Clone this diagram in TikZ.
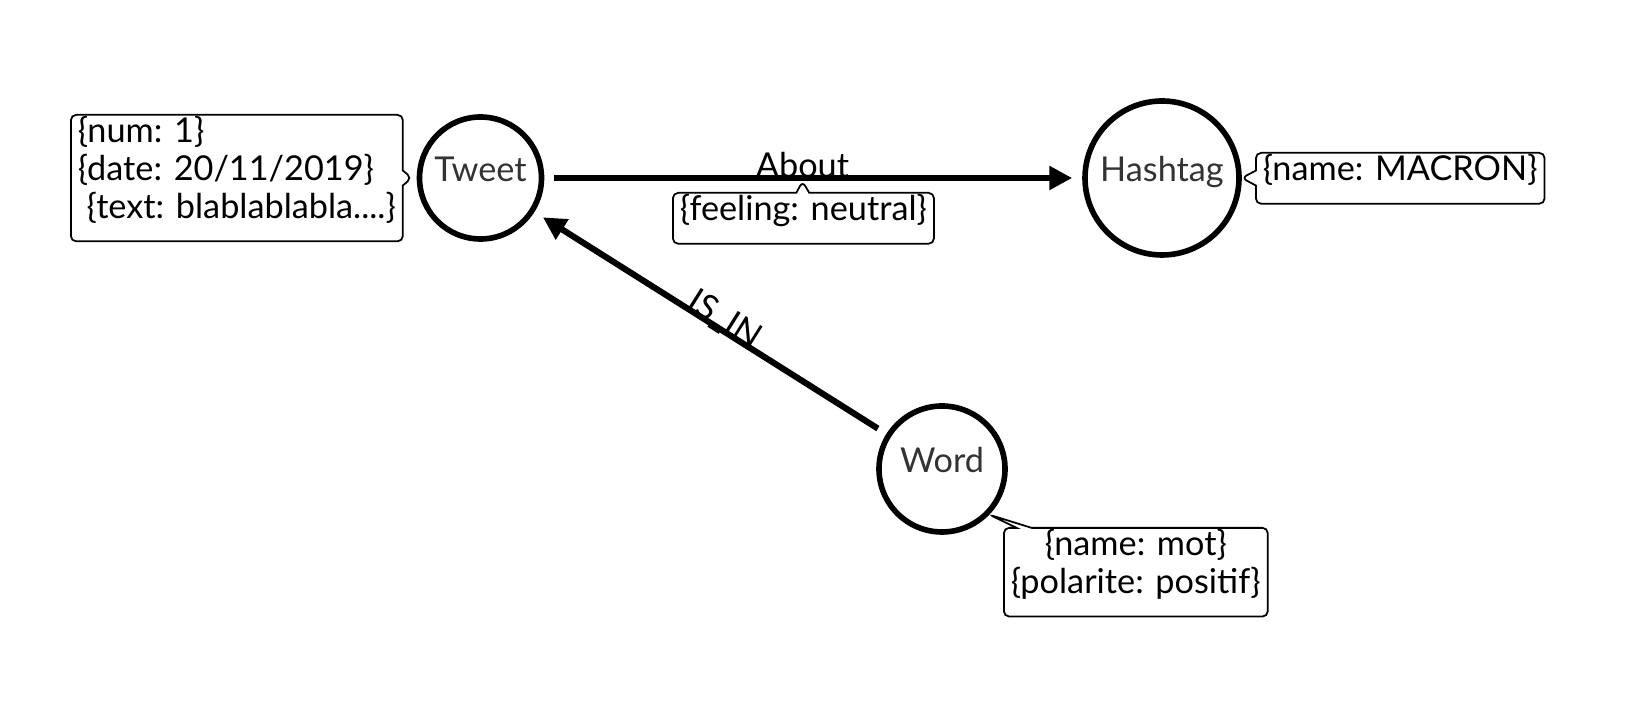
\documentclass[tikz,border=0pt]{standalone}
\usepackage{fontspec}
\setmainfont{Lato}
\usetikzlibrary{arrows.meta,shapes.callouts}

\definecolor{nodetext}{HTML}{333333}
\newcommand{\propfont}{\fontsize{19.5}{21.5}\selectfont}
\newcommand{\entfont}{\fontsize{19.5}{24}\selectfont}
\newcommand{\boxtail}{\rule[-12pt]{0pt}{0pt}}

\tikzset{
  >={Triangle[length=13pt,width=13pt]},   % filled arrow tips
  entity/.style={circle, draw, line width=3.2pt, inner sep=0pt, text=nodetext, font=\entfont, text height=15pt, text depth=11pt},
  prop/.style={rectangle callout, draw, fill=white, line width=1pt, rounded corners=3pt, inner xsep=4pt, inner ysep=1pt, font=\propfont, callout pointer width=0.3cm},
  rel/.style={->, line width=3.5pt, shorten <=0.2cm, shorten >=0.2cm}
}

\begin{document}
\begin{tikzpicture}
	\useasboundingbox (0,0) rectangle (33.02,14.12);

	% nodes
	\node[entity, minimum size=2.44cm] (tweet) at (9.61,10.56) {Tweet};
	\node[entity, minimum size=3.08cm] (hashtag) at (23.24,10.56) {Hashtag};
	\node[entity, minimum size=2.52cm] (word) at (18.84,4.74) {Word};

	% relations
	\draw[rel] (tweet) -- (hashtag) node[pos=0.48, anchor=base, inner sep=0pt, font=\propfont] (about) {About};
	\draw[rel] (word) -- (tweet) node[pos=0.475, sloped, anchor=base, inner sep=0pt, font=\propfont] (isin) {IS\_IN};

	% properties
	\node[prop, align=left, anchor=north west, callout absolute pointer={([xshift=-0.1cm]tweet.west)}] (tweetprops) at (1.40,11.84)
		{\{num: 1\}\\\{date: 20/11/2019\}\\\ \{text: blablablabla....\}\boxtail};
	\node[prop, anchor=north west, callout absolute pointer={(hashtag.east)}] (hashtagprops) at (25.10,11.08)
		{\{name: MACRON\}\boxtail};
	\node[prop, anchor=north west, callout pointer width=0.26cm, callout absolute pointer={(about.south)}] (aboutprops) at (13.44,10.28)
		{\{feeling: neutral\}\boxtail};
	\node[prop, align=center, anchor=north west, callout absolute pointer={(word.-44)}] (wordprops) at (20.06,3.58)
		{\{name: mot\}\\\{polarite: positif\}\boxtail};

\end{tikzpicture}
\end{document}
